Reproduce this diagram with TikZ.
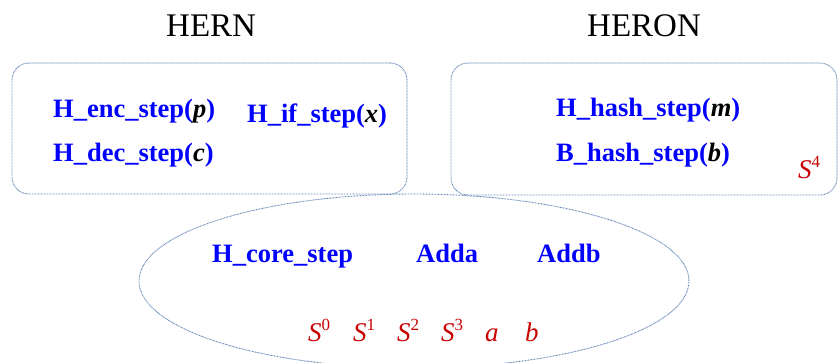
\documentclass[tikz,border=0pt]{standalone}
\usepackage{fontspec}
\usetikzlibrary{shapes.geometric}
\setmainfont{Liberation Serif}
\definecolor{frameblue}{RGB}{95,130,180}
\definecolor{fnblue}{RGB}{0,0,255}
\definecolor{setred}{RGB}{200,0,0}
\newcommand\supnum[1]{\raisebox{0.40em}{\upshape\fontsize{17}{17}\selectfont #1}}
\newcommand\argvar[1]{{\color{black}\textbf{\textit{#1}}}}
\tikzset{
  frame/.style={draw=frameblue, line width=0.9pt, dash pattern=on 0.8pt off 0.7pt},
  fn/.style={anchor=base west, inner sep=0pt, text=fnblue,
    font=\fontsize{26.5}{30}\selectfont\bfseries},
  setlbl/.style={anchor=base west, inner sep=0pt, text=setred,
    font=\fontsize{27}{30}\selectfont\itshape},
  title/.style={anchor=base west, inner sep=0pt,
    font=\fontsize{33}{36}\selectfont},
}
\begin{document}
\begin{tikzpicture}[x=1pt, y=-1pt]
  \useasboundingbox (0,0) rectangle (838,362);
  \clip (0,0) rectangle (838,362);

  % scheme titles
  \node[title] (hern) at (166,36) {HERN};
  \node[title] (heron) at (587,36) {HERON};

  % left group (HERN-specific steps)
  \node[frame, rounded corners=17pt, minimum width=395pt, minimum height=131pt,
        inner sep=0pt] (hernbox) at (209.5,128.5) {};
  % right group (HERON-specific steps)
  \node[frame, rounded corners=17pt, minimum width=386pt, minimum height=132pt,
        inner sep=0pt] (heronbox) at (644,129) {};
  % shared core
  \node[frame, ellipse, minimum width=550pt, minimum height=174pt,
        inner sep=0pt] (core) at (414,281) {};

  % step functions
  \node[fn] (enc) at (53,117) {H\_enc\_step(\argvar{p})};
  \node[fn] (dec) at (53,161) {H\_dec\_step(\argvar{c})};
  \node[fn] (iff) at (247,122) {H\_if\_step(\argvar{x})};
  \node[fn] (hhash) at (556,116) {H\_hash\_step(\argvar{m})};
  \node[fn] (bhash) at (556,161) {B\_hash\_step(\argvar{b})};
  \node[fn] (hcore) at (212,262) {H\_core\_step};
  \node[fn] (adda) at (416,262) {Adda};
  \node[fn] (addb) at (537,262) {Addb};

  % state variables
  \node[setlbl] (s4) at (798,178) {S\supnum{4}};
  \node[setlbl] (s0) at (308,341) {S\supnum{0}};
  \node[setlbl] (s1) at (353,341) {S\supnum{1}};
  \node[setlbl] (s2) at (397,341) {S\supnum{2}};
  \node[setlbl] (s3) at (441,341) {S\supnum{3}};
  \node[setlbl] (va) at (485,341) {a};
  \node[setlbl] (vb) at (525,341) {b};
\end{tikzpicture}
\end{document}
